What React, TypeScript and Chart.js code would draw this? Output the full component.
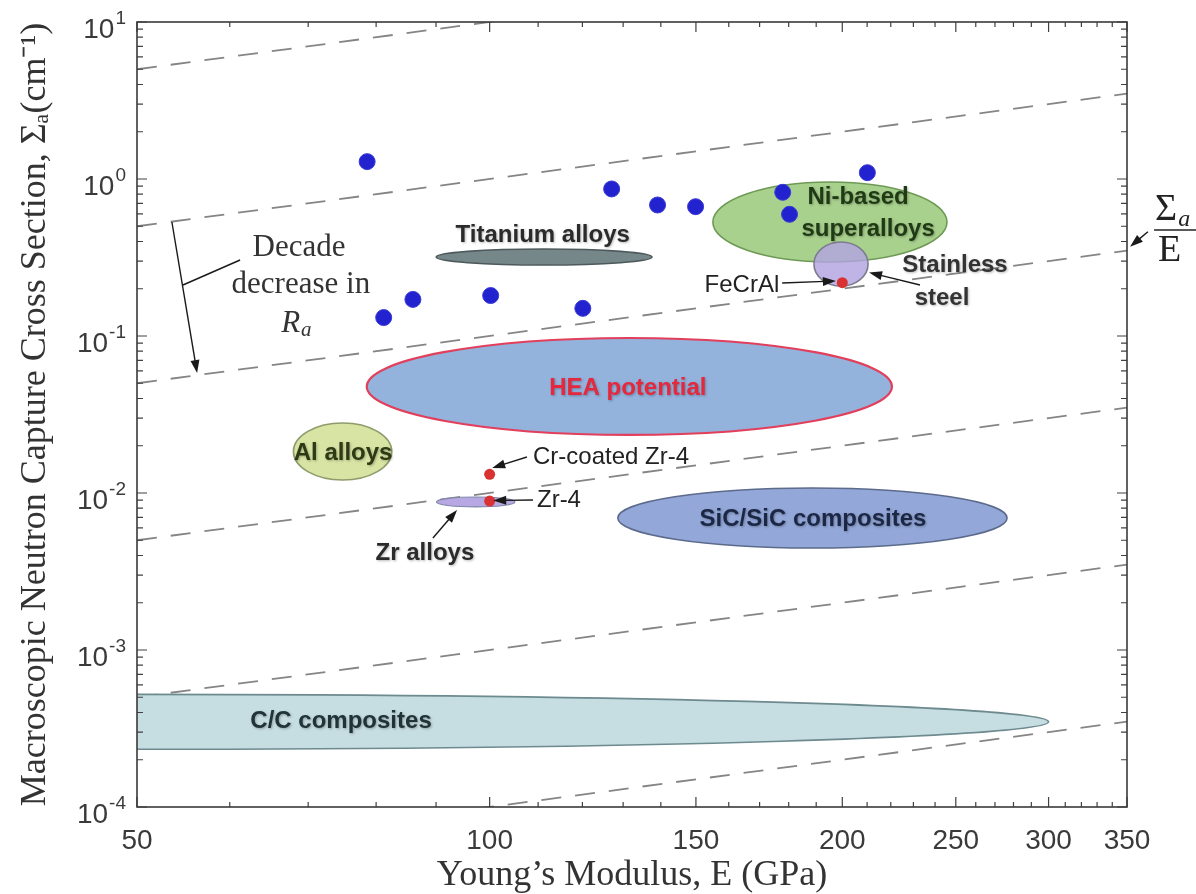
import React, { useEffect, useRef } from 'react';
import { Chart, registerables } from 'chart.js';

Chart.register(...registerables);

const W = 1196;
const H = 894;

// ---------- data ----------
// blue points: Young's modulus (GPa) and macroscopic capture cross section (cm^-1)
const pointModulus = [78.6, 127.1, 139.1, 149.9, 177.9, 180.3, 210.1, 81.2, 86.0, 100.2, 120.1];
const pointSigma = [1.29, 0.864, 0.683, 0.666, 0.823, 0.596, 1.097, 0.131, 0.171, 0.181, 0.15];

// red marked materials
const markedNames = ['FeCrAl', 'Cr-coated Zr-4', 'Zr-4'];
const markedModulus = [200, 100, 100];
const markedSigma = [0.2185, 0.01315, 0.00889];

// material regions (ellipses): centre and upper extents in data units
const regionNames = [
  'C/C composites',
  'SiC/SiC composites',
  'HEA potential',
  'Al alloys',
  'Zr alloys',
  'Titanium alloys',
  'Ni-based superalloys',
  'Stainless steel',
];
const regionModulusCenter = [50, 188.6, 131.6, 74.9, 97.3, 111.3, 195.2, 199.5];
const regionModulusMax = [300, 276.5, 220.5, 82.5, 105.1, 137.6, 245.7, 210.4];
const regionSigmaCenter = [3.49e-4, 0.00693, 0.0477, 0.01838, 0.008767, 0.3185, 0.5323, 0.2874];
const regionSigmaMax = [5.22e-4, 0.01076, 0.0971, 0.02791, 0.00943, 0.3582, 0.957, 0.397];

// constant Sigma_a / E guide lines (one decade apart)
const guideModulus = [50, 350];
const guideSigmaStart = [5, 0.5, 0.05, 0.005, 0.0005, 0.00005];
const guideSigmaEnd = [35, 3.5, 0.35, 0.035, 0.0035, 0.00035];

// axes
const xTickValues = [50, 100, 150, 200, 250, 300, 350];
const xMinorTicks = [60, 70, 80, 90, 110, 120, 130, 140, 160, 170, 180, 190, 210, 220, 230, 240, 260, 270, 280, 290, 310, 320, 330, 340];
const yExponents = [-4, -3, -2, -1, 0, 1];
const yMinorMantissas = [2, 3, 4, 5, 6, 7, 8, 9];

// ---------- styles / annotation layout ----------
const regionStyles = [
  { fill: '#c6dde2', stroke: '#6d8a8f', width: 1.6 },
  { fill: '#93a8d8', stroke: '#5c6a8c', width: 1.6 },
  { fill: '#93b2dc', stroke: '#e23f5c', width: 2.2 },
  { fill: '#d8e4a4', stroke: '#8e9c6c', width: 1.6 },
  { fill: '#b7a7e2', stroke: '#7d86a9', width: 1.2 },
  { fill: '#76878a', stroke: '#4d595b', width: 1.6 },
  { fill: '#a9d18e', stroke: '#6e9a55', width: 1.6 },
  { fill: 'rgba(178,163,224,0.82)', stroke: '#7c7c8e', width: 1.6 },
];

const SANS = '"Liberation Sans", Arial, sans-serif';
const SERIF = '"Liberation Serif", "Times New Roman", serif';
const BOLD = `bold 24px ${SANS}`;
const REG = `24px ${SANS}`;
const SERIF_LBL = `31px ${SERIF}`;

type Lbl = { text: string; e: number; s: number; font: string; color: string; align?: CanvasTextAlign };
const labels: Lbl[] = [
  { text: 'Titanium alloys', e: 111.0, s: 0.4397, font: BOLD, color: '#2b2b2b' },
  { text: 'Ni-based', e: 206.3, s: 0.7679, font: BOLD, color: '#1f3a14' },
  { text: 'superalloys', e: 210.4, s: 0.4802, font: BOLD, color: '#1f3a14' },
  { text: 'Stainless', e: 249.6, s: 0.2833, font: BOLD, color: '#333333' },
  { text: 'steel', e: 243.3, s: 0.1746, font: BOLD, color: '#333333' },
  { text: markedNames[0], e: 164.2, s: 0.2113, font: REG, color: '#222222' },
  { text: 'HEA potential', e: 131.2, s: 0.04665, font: BOLD, color: '#e5283d' },
  { text: 'Al alloys', e: 74.97, s: 0.01798, font: BOLD, color: '#2d3a14' },
  { text: markedNames[1], e: 108.9, s: 0.01696, font: REG, color: '#222222', align: 'left' },
  { text: markedNames[2], e: 109.75, s: 0.009025, font: REG, color: '#222222', align: 'left' },
  { text: 'Zr alloys', e: 88.06, s: 0.004147, font: BOLD, color: '#2b2b2b' },
  { text: 'SiC/SiC composites', e: 188.8, s: 0.00683, font: BOLD, color: '#1c2746' },
  { text: 'C/C composites', e: 74.67, s: 0.000353, font: BOLD, color: '#203438' },
  { text: 'Decade', e: 68.75, s: 0.3634, font: SERIF_LBL, color: '#333333' },
  { text: 'decrease in', e: 69.0, s: 0.2113, font: SERIF_LBL, color: '#333333' },
];

type Arr = { from: [number, number]; to: [number, number]; head?: boolean };
const arrows: Arr[] = [
  { from: [177.7, 0.2176], to: [197.5, 0.224] },
  { from: [233.0, 0.2113], to: [210.8, 0.2537] },
  { from: [107.6, 0.01696], to: [100.5, 0.01443] },
  { from: [108.9, 0.009025], to: [100.7, 0.00896] },
  { from: [89.45, 0.005169], to: [93.8, 0.007793] },
  { from: [364.7, 0.4617], to: [352.1, 0.3705] },
  { from: [53.55, 0.5323], to: [56.27, 0.0581] },
  { from: [54.73, 0.2113], to: [61.23, 0.3049], head: false },
];
const raAnchor: [number, number] = [68.5, 0.121];
const ratioAnchor: [number, number] = [384.7, 0.4733];

// ---------- drawing helpers ----------
function drawArrow(ctx: CanvasRenderingContext2D, x1: number, y1: number, x2: number, y2: number, head = true) {
  const a = Math.atan2(y2 - y1, x2 - x1);
  const len = 13;
  const half = 4.5;
  const ex = head ? x2 - (len - 2) * Math.cos(a) : x2;
  const ey = head ? y2 - (len - 2) * Math.sin(a) : y2;
  ctx.beginPath();
  ctx.moveTo(x1, y1);
  ctx.lineTo(ex, ey);
  ctx.stroke();
  if (!head) return;
  ctx.beginPath();
  ctx.moveTo(x2, y2);
  ctx.lineTo(x2 - len * Math.cos(a) + half * Math.sin(a), y2 - len * Math.sin(a) - half * Math.cos(a));
  ctx.lineTo(x2 - len * Math.cos(a) - half * Math.sin(a), y2 - len * Math.sin(a) + half * Math.cos(a));
  ctx.closePath();
  ctx.fill();
}

const whiteBg = {
  id: 'whiteBg',
  beforeDraw(chart: any) {
    const { ctx } = chart;
    ctx.save();
    ctx.fillStyle = '#ffffff';
    ctx.fillRect(0, 0, chart.width, chart.height);
    ctx.restore();
  },
};

const regionsPlugin = {
  id: 'regions',
  beforeDatasetDraw(chart: any, args: any) {
    if (args.index !== 1) return; // draw regions just before the red markers
    const { ctx, chartArea } = chart;
    const xs = chart.scales.x;
    const ys = chart.scales.y;
    ctx.save();
    ctx.beginPath();
    ctx.rect(chartArea.left, chartArea.top, chartArea.right - chartArea.left, chartArea.bottom - chartArea.top);
    ctx.clip();
    regionNames.forEach((_, i) => {
      const cx = xs.getPixelForValue(regionModulusCenter[i]);
      const cy = ys.getPixelForValue(regionSigmaCenter[i]);
      const rx = xs.getPixelForValue(regionModulusMax[i]) - cx;
      const ry = cy - ys.getPixelForValue(regionSigmaMax[i]);
      const st = regionStyles[i];
      ctx.beginPath();
      ctx.ellipse(cx, cy, rx, ry, 0, 0, Math.PI * 2);
      ctx.fillStyle = st.fill;
      ctx.fill();
      ctx.lineWidth = st.width;
      ctx.strokeStyle = st.stroke;
      ctx.stroke();
    });
    ctx.restore();
  },
};

const annotationsPlugin = {
  id: 'annotations',
  afterDatasetsDraw(chart: any) {
    const { ctx } = chart;
    const xs = chart.scales.x;
    const ys = chart.scales.y;
    const px = (e: number) => xs.getPixelForValue(e);
    const py = (s: number) => ys.getPixelForValue(s);
    ctx.save();
    // arrows
    ctx.strokeStyle = '#1a1a1a';
    ctx.fillStyle = '#1a1a1a';
    ctx.lineWidth = 1.4;
    arrows.forEach((a) => drawArrow(ctx, px(a.from[0]), py(a.from[1]), px(a.to[0]), py(a.to[1]), a.head !== false));
    // labels
    ctx.textBaseline = 'middle';
    labels.forEach((l) => {
      ctx.save();
      ctx.font = l.font;
      ctx.fillStyle = l.color;
      ctx.textAlign = l.align || 'center';
      if (l.font === BOLD) {
        ctx.shadowColor = 'rgba(0,0,0,0.28)';
        ctx.shadowBlur = 2.5;
        ctx.shadowOffsetX = 1;
        ctx.shadowOffsetY = 1.5;
      }
      ctx.fillText(l.text, px(l.e), py(l.s));
      ctx.restore();
    });
    // R_a
    const rx = px(raAnchor[0]);
    const ry = py(raAnchor[1]);
    ctx.textAlign = 'left';
    ctx.textBaseline = 'alphabetic';
    ctx.fillStyle = '#333333';
    ctx.font = `italic 31px ${SERIF}`;
    const wR = ctx.measureText('R').width;
    ctx.fillText('R', rx - 16, ry + 9);
    ctx.font = `italic 21px ${SERIF}`;
    ctx.fillText('a', rx - 16 + wR + 1, ry + 13);
    // Sigma_a / E
    const fx = px(ratioAnchor[0]);
    const fy = py(ratioAnchor[1]);
    ctx.fillStyle = '#222222';
    ctx.strokeStyle = '#222222';
    ctx.font = `38px ${SERIF}`;
    const wS = ctx.measureText('\u03A3').width;
    ctx.fillText('\u03A3', fx - 20, fy - 10);
    ctx.font = `italic 24px ${SERIF}`;
    ctx.fillText('a', fx - 20 + wS + 1, fy - 4);
    ctx.lineWidth = 1.6;
    ctx.beginPath();
    ctx.moveTo(fx - 21, fy);
    ctx.lineTo(fx + 30, fy);
    ctx.stroke();
    ctx.font = `38px ${SERIF}`;
    ctx.fillText('E', fx - 17, fy + 31);
    ctx.restore();
  },
};

const axesPlugin = {
  id: 'boxAxes',
  afterDraw(chart: any) {
    const { ctx, chartArea } = chart;
    const { left, right, top, bottom } = chartArea;
    const xs = chart.scales.x;
    const ys = chart.scales.y;
    ctx.save();
    ctx.strokeStyle = '#404040';
    ctx.lineWidth = 1.2;
    ctx.beginPath();
    const seg = (x1: number, y1: number, x2: number, y2: number) => {
      ctx.moveTo(x1, y1);
      ctx.lineTo(x2, y2);
    };
    xTickValues.forEach((v) => {
      const p = xs.getPixelForValue(v);
      seg(p, bottom, p, bottom - 10);
      seg(p, top, p, top + 10);
    });
    xMinorTicks.forEach((v) => {
      const p = xs.getPixelForValue(v);
      seg(p, bottom, p, bottom - 5);
      seg(p, top, p, top + 5);
    });
    yExponents.forEach((k) => {
      const p = ys.getPixelForValue(Math.pow(10, k));
      seg(left, p, left + 10, p);
      seg(right, p, right - 10, p);
      if (k < 1) {
        yMinorMantissas.forEach((m) => {
          const q = ys.getPixelForValue(m * Math.pow(10, k));
          seg(left, q, left + 6, q);
          seg(right, q, right - 6, q);
        });
      }
    });
    ctx.stroke();
    ctx.lineWidth = 1.6;
    ctx.strokeStyle = '#3a3a3a';
    ctx.strokeRect(left, top, right - left, bottom - top);
    // y tick labels 10^k
    const MAIN = `28px ${SANS}`;
    const SUP = `19px ${SANS}`;
    ctx.fillStyle = '#3a3a3a';
    ctx.textAlign = 'left';
    ctx.textBaseline = 'alphabetic';
    yExponents.forEach((k) => {
      const p = ys.getPixelForValue(Math.pow(10, k));
      const exp = String(k);
      ctx.font = SUP;
      const we = ctx.measureText(exp).width;
      ctx.font = MAIN;
      const wm = ctx.measureText('10').width;
      const xr = left - 11;
      ctx.fillText('10', xr - we - wm - 1, p + 16);
      ctx.font = SUP;
      ctx.fillText(exp, xr - we, p + 2);
    });
    ctx.restore();
  },
};

export default function App() {
  const ref = useRef<HTMLCanvasElement>(null);

  useEffect(() => {
    if (!ref.current) return;
    const blue = pointModulus.map((e, i) => ({ x: e, y: pointSigma[i] }));
    const red = markedModulus.map((e, i) => ({ x: e, y: markedSigma[i] }));
    const guides = guideSigmaStart.map((s, i) => ({
      label: `ratio ${i}`,
      data: [
        { x: guideModulus[0], y: s },
        { x: guideModulus[1], y: guideSigmaEnd[i] },
      ],
      showLine: true,
      borderColor: '#858585',
      borderWidth: 1.8,
      borderDash: [20, 14],
      pointRadius: 0,
      fill: false,
      order: 10,
    }));

    const chart = new Chart(ref.current, {
      type: 'scatter',
      data: {
        datasets: [
          {
            label: 'materials',
            data: blue,
            pointRadius: 8,
            pointBackgroundColor: '#2222cf',
            pointBorderColor: '#3a3ad8',
            pointBorderWidth: 1,
            order: 0,
          },
          {
            label: 'marked',
            data: red,
            pointRadius: 5.5,
            pointBackgroundColor: '#d83232',
            pointBorderColor: '#d83232',
            pointBorderWidth: 0,
            order: 1,
          },
          ...guides,
        ] as any,
      },
      options: {
        animation: false,
        responsive: false,
        devicePixelRatio: 1,
        events: [],
        layout: { padding: { top: 22, right: 69, left: 0, bottom: 0 } },
        plugins: { legend: { display: false }, tooltip: { enabled: false } },
        scales: {
          x: {
            type: 'logarithmic',
            position: 'bottom',
            min: 50,
            max: 350,
            grid: { display: false, drawTicks: false },
            border: { display: false },
            afterBuildTicks: (scale: any) => {
              scale.ticks = xTickValues.map((v) => ({ value: v }));
            },
            afterFit: (scale: any) => {
              scale.height = 87;
            },
            ticks: {
              autoSkip: false,
              maxRotation: 0,
              padding: 17,
              color: '#3a3a3a',
              font: { family: SANS, size: 28 },
              callback: (v: any) => String(v),
            },
            title: {
              display: true,
              text: 'Young\u2019s Modulus, E (GPa)',
              color: '#333333',
              font: { family: SERIF, size: 36, lineHeight: 1.0 },
              padding: { top: 0, bottom: 0 },
            },
          },
          y: {
            type: 'logarithmic',
            position: 'left',
            min: 1e-4,
            max: 10,
            grid: { display: false, drawTicks: false },
            border: { display: false },
            ticks: { display: false },
            afterFit: (scale: any) => {
              scale.width = 137;
            },
            title: {
              display: true,
              text: 'Macroscopic Neutron Capture Cross Section, \u03A3\u2090(cm\u207B\u00B9)',
              color: '#333333',
              font: { family: SERIF, size: 36, lineHeight: 1.0 },
              padding: { top: 18, bottom: 0 },
            },
          },
        },
      } as any,
      plugins: [whiteBg, regionsPlugin, annotationsPlugin, axesPlugin],
    });
    return () => chart.destroy();
  }, []);

  return (
    <div style={{ position: 'absolute', left: 0, top: 0, width: W, height: H, background: '#ffffff' }}>
      <canvas ref={ref} width={W} height={H} style={{ width: W, height: H, display: 'block' }} />
    </div>
  );
}
